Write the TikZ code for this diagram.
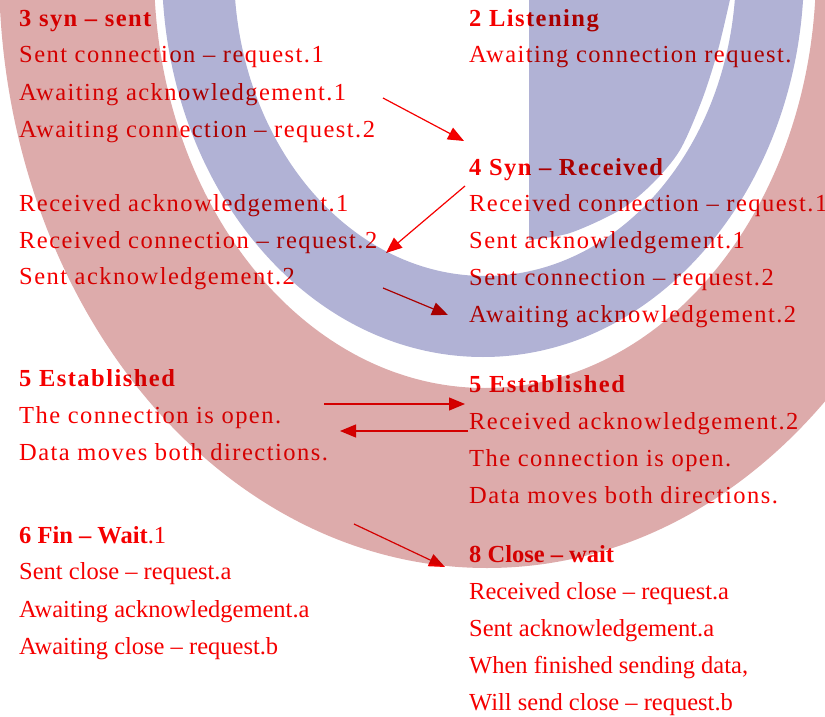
\documentclass[tikz,border=0pt]{standalone}
\usepackage{fontspec}
\setmainfont{Liberation Serif}
\newfontfamily\spacedfont[LetterSpace=6]{Liberation Serif}
\usetikzlibrary{arrows.meta}
\definecolor{bandpink}{RGB}{221,171,171}
\definecolor{bandblue}{RGB}{177,178,213}
\definecolor{tcpred}{RGB}{245,0,0}

\begin{document}
\begin{tikzpicture}[x=1pt,y=1pt,yscale=-1,
    plain/.style={anchor=base west,inner sep=0pt,text=tcpred,font=\fontsize{24.5}{28}\selectfont},
    wide/.style={plain,font=\fontsize{24.5}{28}\selectfont\spacedfont},
    flow/.style={draw=tcpred,line width=1.2pt,-{Triangle[length=16pt,width=13pt]}}]
    \useasboundingbox (0,0) rectangle (825,717); %picture is 825 wide and 717 high

    \begin{scope}
    \clip (0,0) rectangle (825,717);
    %Outer band
    \fill [bandpink, even odd rule] (487,-30) ellipse [x radius=488, y radius=598] (485,-30) ellipse [x radius=331, y radius=418];
    %Inner band
    \fill [bandblue, even odd rule] (483,-30) ellipse [x radius=321, y radius=387] (485,-30) ellipse [x radius=251, y radius=306];
    %Inner piece
    \fill [bandblue] (529,-5) -- plot [smooth] coordinates {(529,240) (570,233) (620,210) (653,183) (680,150) (702,100) (718,50) (731,-5)} -- cycle;
    \end{scope}

    \begin{scope}[blend mode=multiply]
    % Text Node
    \node [wide] (synsent) at (19,27) {\bfseries 3 syn – sent};
    % Text Node
    \node [wide] (sentreq1) at (19,63) {Sent connection – request.1};
    % Text Node
    \node [wide] (waitack1) at (19,100) {Awaiting acknowledgement.1};
    % Text Node
    \node [wide] (waitreq2) at (19,137) {Awaiting connection – request.2};
    % Text Node
    \node [wide] (recack1) at (19,211) {Received acknowledgement.1};
    % Text Node
    \node [wide] (recreq2) at (19,248) {Received connection – request.2};
    % Text Node
    \node [wide] (sentack2) at (19,284) {Sent acknowledgement.2};
    % Text Node
    \node [wide] (estleft) at (19,386) {\bfseries 5 Established};
    % Text Node
    \node [wide] (openleft) at (19,423) {The connection is open.};
    % Text Node
    \node [wide] (dataleft) at (19,460) {Data moves both directions.};
    % Text Node
    \node [plain] (finwait) at (19,543) {\bfseries 6 Fin – Wait\mdseries.1};
    % Text Node
    \node [plain] (sentclosea) at (19,579) {Sent close – request.a};
    % Text Node
    \node [plain] (waitacka) at (19,617) {Awaiting acknowledgement.a};
    % Text Node
    \node [plain] (waitcloseb) at (19,654) {Awaiting close – request.b};

    % Text Node
    \node [wide] (listen) at (469,27) {\bfseries 2 Listening};
    % Text Node
    \node [wide] (waitreq) at (469,63) {Awaiting connection request.};
    % Text Node
    \node [wide] (synrec) at (469,175) {\bfseries 4 Syn – Received};
    % Text Node
    \node [wide] (recreq1) at (469,211) {Received connection – request.1};
    % Text Node
    \node [wide] (sentack1) at (469,248) {Sent acknowledgement.1};
    % Text Node
    \node [wide] (sentreq2) at (469,285) {Sent connection – request.2};
    % Text Node
    \node [wide] (waitack2) at (469,322) {Awaiting acknowledgement.2};
    % Text Node
    \node [wide] (estright) at (469,392) {\bfseries 5 Established};
    % Text Node
    \node [wide] (recack2) at (469,429) {Received acknowledgement.2};
    % Text Node
    \node [wide] (openright) at (469,466) {The connection is open.};
    % Text Node
    \node [wide] (dataright) at (469,503) {Data moves both directions.};
    % Text Node
    \node [plain] (closewait) at (469,562) {\bfseries 8 Close – wait};
    % Text Node
    \node [plain] (recclosea) at (469,599) {Received close – request.a};
    % Text Node
    \node [plain] (sentacka) at (469,636) {Sent acknowledgement.a};
    % Text Node
    \node [plain] (finished) at (469,673) {When finished sending data,};
    % Text Node
    \node [plain] (sendcloseb) at (469,710) {Will send close – request.b};

    %Arrow ends
    \coordinate (ackout) at (383,98);
    \coordinate (ackin) at (464,141);
    \coordinate (synout) at (465,186);
    \coordinate (synin) at (386,253);
    \coordinate (sentout) at (383,288);
    \coordinate (sentin) at (448,315);
    \coordinate (openout) at (324,404);
    \coordinate (openin) at (465,404);
    \coordinate (backout) at (468,431);
    \coordinate (backin) at (340,431);
    \coordinate (finout) at (354,524);
    \coordinate (finin) at (445,567);
    %Arrows
    \draw [flow] (ackout) -- (ackin);
    \draw [flow] (synout) -- (synin);
    \draw [flow] (sentout) -- (sentin);
    \draw [flow] (openout) -- (openin);
    \draw [flow] (backout) -- (backin);
    \draw [flow] (finout) -- (finin);
    \end{scope}
\end{tikzpicture}
\end{document}
